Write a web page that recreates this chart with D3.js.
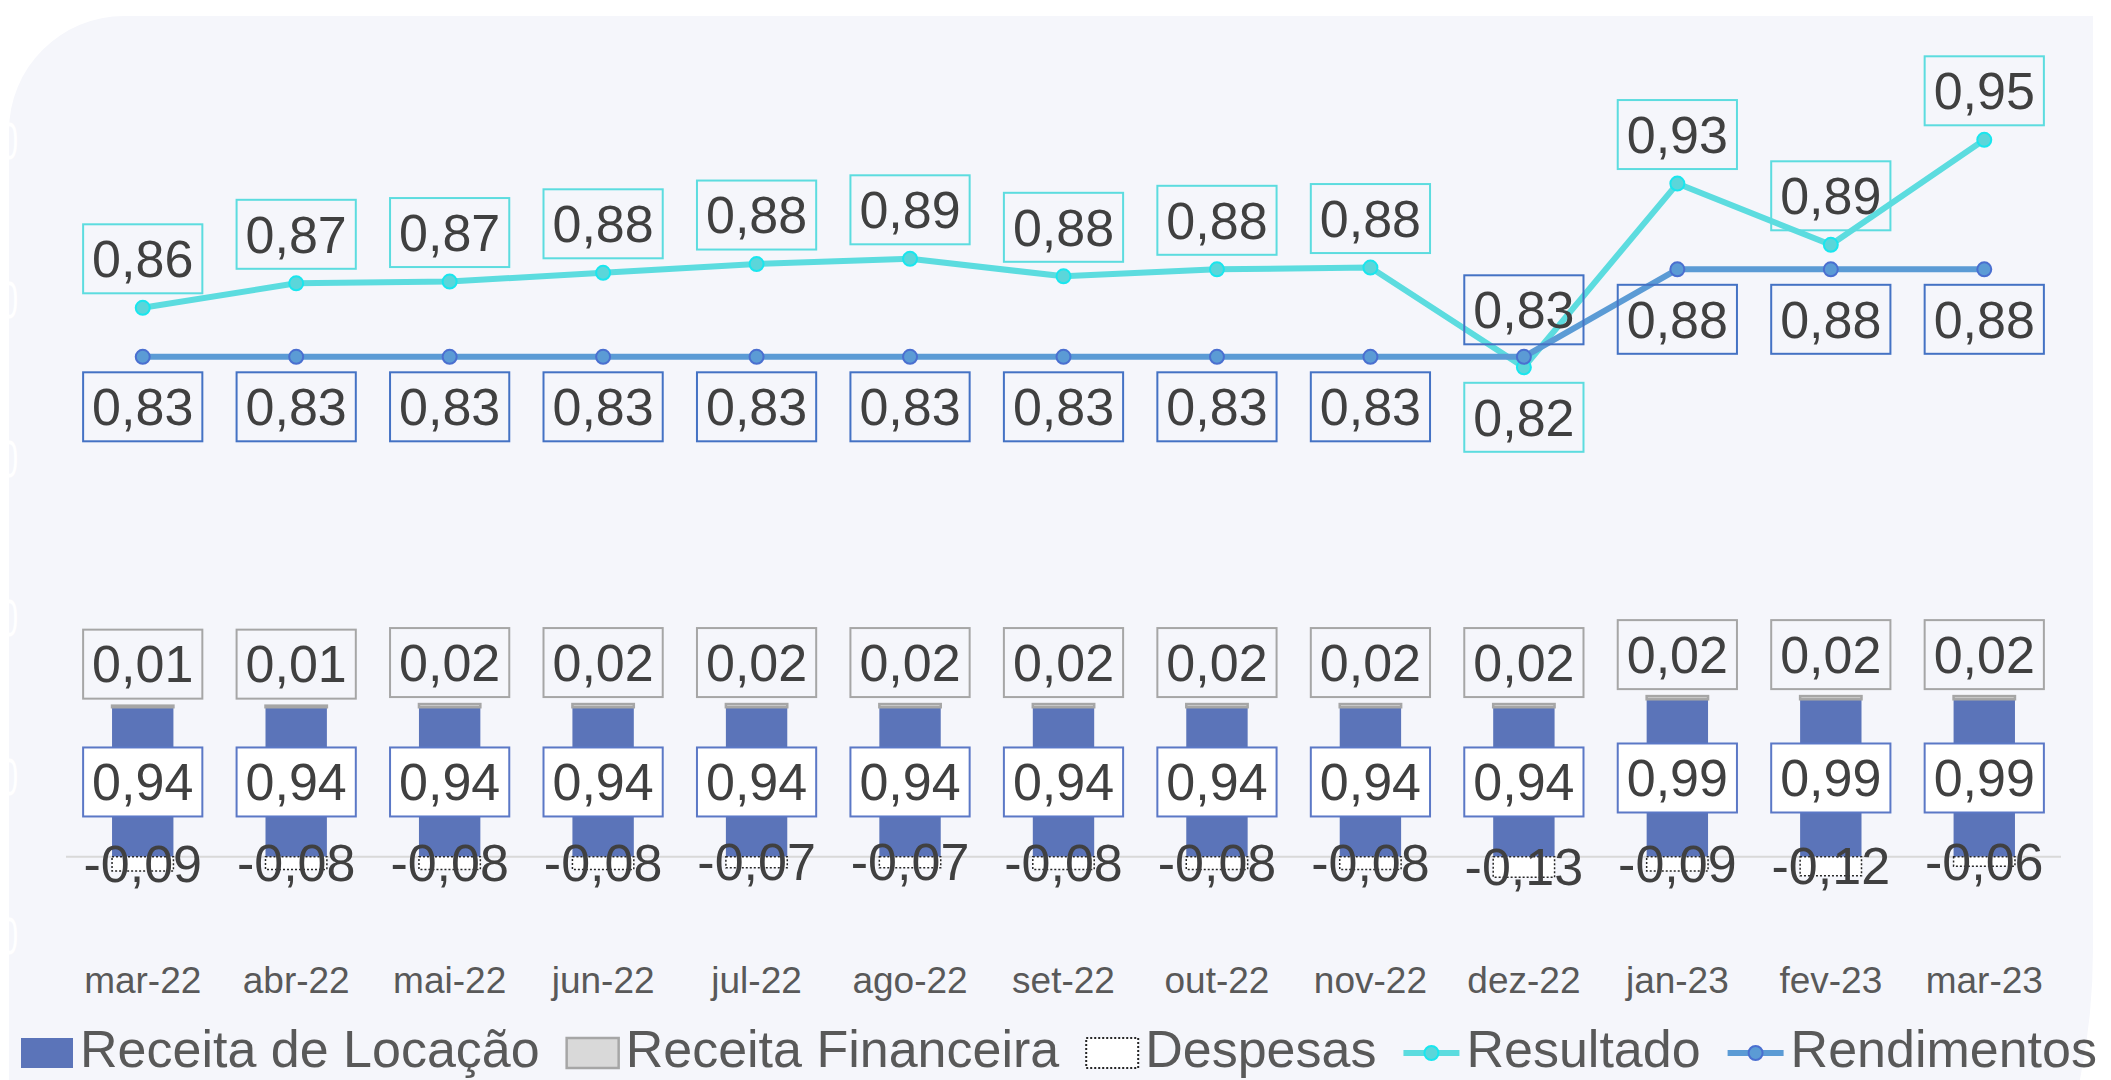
<!DOCTYPE html>
<html>
<head>
<meta charset="utf-8">
<script src="https://cdn.jsdelivr.net/npm/d3@7"></script>
<style>
  html, body { margin: 0; padding: 0; background: #ffffff; overflow: hidden; }
  svg { display: block; font-family: 'Liberation Sans', Arial, sans-serif; }
</style>
</head>
<body>
<div id="chart"></div>
<script>
const MONTHS = ['mar-22', 'abr-22', 'mai-22', 'jun-22', 'jul-22', 'ago-22', 'set-22',
  'out-22', 'nov-22', 'dez-22', 'jan-23', 'fev-23', 'mar-23'];

const RECEITA_LOCACAO = [0.94, 0.94, 0.94, 0.94, 0.94, 0.94, 0.94, 0.94, 0.94, 0.94, 0.99, 0.99, 0.99];
const RECEITA_FINANCEIRA = [0.01, 0.01, 0.02, 0.02, 0.02, 0.02, 0.02, 0.02, 0.02, 0.02, 0.02, 0.02, 0.02];
const DESPESAS = [-0.09, -0.08, -0.08, -0.08, -0.07, -0.07, -0.08, -0.08, -0.08, -0.13, -0.09, -0.12, -0.06];
const RESULTADO = [0.858, 0.872, 0.873, 0.878, 0.883, 0.886, 0.876, 0.880, 0.881, 0.824, 0.929, 0.894, 0.954];
const RENDIMENTOS = [0.83, 0.83, 0.83, 0.83, 0.83, 0.83, 0.83, 0.83, 0.83, 0.83, 0.88, 0.88, 0.88];

// left axis ticks; only the last glyph of each white label shows at the panel edge
const LEFT_TICKS = [-0.5, 0.5, 1.5, 2.5, 3.5, 4.5];

const LEGEND_ITEMS = [
  { label: 'Receita de Locação', kind: 'locacao' },
  { label: 'Receita Financeira', kind: 'financeira' },
  { label: 'Despesas', kind: 'despesas' },
  { label: 'Resultado', kind: 'resultado' },
  { label: 'Rendimentos', kind: 'rendimentos' }
];

const COLORS = {
  panel: '#f5f6fb',
  locacao: '#5b74b9',
  locacaoLabel: '#5b78c6',
  financeira: '#d9d9d9',
  financeiraStroke: '#a6a6a6',
  despesasStroke: '#262626',
  resultado: '#5cdcdf',
  resultadoMarker: '#5bd6da',
  resultadoMarkerStroke: '#19e6ee',
  rendimentos: '#5b9bd5',
  rendimentosMarkerStroke: '#4a6fd0',
  rendimentosLabel: '#4472c4',
  text: '#404040',
  axisText: '#595959',
  grid: '#d9d9d9'
};

const W = 2111, H = 1080;
const LABEL_FONT = 52;
const LEGEND_FONT = 52;
const BOX_H = 69;

const ptBR = d3.formatLocale({ decimal: ',', thousands: '.', grouping: [3], currency: ['R$', ''], minus: '-' });
const fmt = ptBR.format('.2f');

const svg = d3.select('#chart').append('svg')
  .attr('width', W)
  .attr('height', H)
  .attr('viewBox', `0 0 ${W} ${H}`);

// background panel: rounded top-left and a wide curve at bottom-right
svg.append('path')
  .attr('d', 'M124,16 H2093 V950 A650,650 0 0 1 1443,1600 H9 V131 A115,115 0 0 1 124,16 Z')
  .attr('fill', COLORS.panel);

const x = d3.scaleBand()
  .domain(MONTHS)
  .range([66, 2061])
  .paddingInner(0.6)
  .paddingOuter(0.3);
const bw = x.bandwidth();
const cx = m => x(m) + bw / 2;

const yBar = d3.scaleLinear().domain([-0.5, 4.5]).range([936.2, 141.2]);
const yLine = d3.scaleLinear().domain([0.8, 1.0]).range([409.3, 59.3]);

// white tick glyphs on the left edge
const leftAxis = svg.append('g')
  .call(d3.axisLeft(yBar).tickValues(LEFT_TICKS).tickFormat(d => fmt(d).slice(-1)).tickSize(0).tickPadding(0));
leftAxis.select('.domain').remove();
leftAxis.selectAll('.tick')
  .attr('transform', d => `translate(18,${yBar(d)}) scale(0.6,1)`);
leftAxis.selectAll('text')
  .attr('x', 0)
  .attr('dy', '0.35em')
  .attr('fill', '#ffffff')
  .style('font-size', LABEL_FONT + 'px')
  .style('font-family', "'Liberation Sans', Arial, sans-serif");

// zero line
svg.append('line')
  .attr('x1', x.range()[0]).attr('x2', x.range()[1])
  .attr('y1', yBar(0)).attr('y2', yBar(0))
  .attr('stroke', COLORS.grid)
  .attr('stroke-width', 2);

// stacked bars
const table = MONTHS.map((m, i) => ({
  month: m,
  locacao: RECEITA_LOCACAO[i],
  financeira: RECEITA_FINANCEIRA[i],
  despesas: DESPESAS[i]
}));

const stacked = d3.stack()
  .keys(['locacao', 'financeira', 'despesas'])
  .offset(d3.stackOffsetDiverging)(table);

const barStyle = {
  locacao: { fill: COLORS.locacao, stroke: 'none', dash: null, sw: 0 },
  financeira: { fill: COLORS.financeira, stroke: COLORS.financeiraStroke, dash: null, sw: 2.5 },
  despesas: { fill: '#ffffff', stroke: COLORS.despesasStroke, dash: '2 2', sw: 1.5 }
};

const barsG = svg.append('g').attr('class', 'bars');
stacked.forEach(series => {
  const st = barStyle[series.key];
  barsG.append('g')
    .selectAll('rect')
    .data(series)
    .enter()
    .append('rect')
    .attr('x', d => x(d.data.month))
    .attr('width', bw)
    .attr('y', d => yBar(Math.max(d[0], d[1])))
    .attr('height', d => Math.abs(yBar(d[0]) - yBar(d[1])))
    .attr('fill', st.fill)
    .attr('stroke', st.stroke)
    .attr('stroke-width', st.sw)
    .attr('stroke-dasharray', st.dash);
});

// lines
const lineGen = d3.line()
  .x((d, i) => cx(MONTHS[i]))
  .y(d => yLine(d));

const linesG = svg.append('g').attr('class', 'lines');

function drawSeries(values, color, markerFill, markerStroke) {
  linesG.append('path')
    .datum(values)
    .attr('d', lineGen)
    .attr('fill', 'none')
    .attr('stroke', color)
    .attr('stroke-width', 6)
    .attr('stroke-linejoin', 'round');
  linesG.append('g')
    .selectAll('circle')
    .data(values)
    .enter()
    .append('circle')
    .attr('cx', (d, i) => cx(MONTHS[i]))
    .attr('cy', d => yLine(d))
    .attr('r', 7)
    .attr('fill', markerFill)
    .attr('stroke', markerStroke)
    .attr('stroke-width', 2);
}

drawSeries(RESULTADO, COLORS.resultado, COLORS.resultadoMarker, COLORS.resultadoMarkerStroke);
drawSeries(RENDIMENTOS, COLORS.rendimentos, COLORS.rendimentos, COLORS.rendimentosMarkerStroke);

// data labels
const labelsG = svg.append('g').attr('class', 'labels');

function drawLabel(px, py, str, boxStroke, boxFill) {
  const g = labelsG.append('g').attr('transform', `translate(${px},${py})`);
  const t = g.append('text')
    .attr('text-anchor', 'middle')
    .attr('dy', '0.35em')
    .attr('fill', COLORS.text)
    .style('font-size', LABEL_FONT + 'px')
    .text(str);
  if (boxStroke) {
    const w = t.node().getComputedTextLength() + 18;
    g.insert('rect', 'text')
      .attr('x', -w / 2)
      .attr('y', -BOX_H / 2)
      .attr('width', w)
      .attr('height', BOX_H)
      .attr('fill', boxFill)
      .attr('stroke', boxStroke)
      .attr('stroke-width', 2);
  }
}

const [sLoc, sFin, sDesp] = stacked;

MONTHS.forEach((m, i) => {
  const px = cx(m);
  // Receita de Locacao, centred in its segment
  drawLabel(px, (yBar(sLoc[i][0]) + yBar(sLoc[i][1])) / 2, fmt(RECEITA_LOCACAO[i]), COLORS.locacaoLabel, '#ffffff');
  // Receita Financeira, just above the stack
  drawLabel(px, yBar(sFin[i][1]) - 7 - BOX_H / 2, fmt(RECEITA_FINANCEIRA[i]), COLORS.financeiraStroke, 'none');
  // Despesas, text only
  drawLabel(px, (yBar(sDesp[i][0]) + yBar(sDesp[i][1])) / 2, fmt(DESPESAS[i]), null, null);

  // line labels: higher series goes above, the other below
  const resAbove = RESULTADO[i] >= RENDIMENTOS[i];
  drawLabel(px, yLine(RESULTADO[i]) + (resAbove ? -49 : 50), fmt(RESULTADO[i]), COLORS.resultado, 'none');
  drawLabel(px, yLine(RENDIMENTOS[i]) + (resAbove ? 50 : -47), fmt(RENDIMENTOS[i]), COLORS.rendimentosLabel, 'none');
});

// category axis
const xAxis = svg.append('g')
  .attr('transform', 'translate(0,980)')
  .call(d3.axisBottom(x).tickSize(0).tickPadding(0));
xAxis.select('.domain').remove();
xAxis.selectAll('text')
  .attr('y', 0)
  .attr('dy', '0.35em')
  .attr('fill', COLORS.axisText)
  .style('font-size', '37px')
  .style('font-family', "'Liberation Sans', Arial, sans-serif");

// legend
const legend = svg.append('g').attr('class', 'legend');
const legendY = 1049;
let lx = 21;
LEGEND_ITEMS.forEach(item => {
  const g = legend.append('g');
  let sw;
  if (item.kind === 'resultado' || item.kind === 'rendimentos') {
    sw = 56;
    const color = item.kind === 'resultado' ? COLORS.resultado : COLORS.rendimentos;
    const mFill = item.kind === 'resultado' ? COLORS.resultadoMarker : COLORS.rendimentos;
    const mStroke = item.kind === 'resultado' ? COLORS.resultadoMarkerStroke : COLORS.rendimentosMarkerStroke;
    g.append('line')
      .attr('x1', lx).attr('x2', lx + sw)
      .attr('y1', legendY + 4).attr('y2', legendY + 4)
      .attr('stroke', color)
      .attr('stroke-width', 6);
    g.append('circle')
      .attr('cx', lx + sw / 2).attr('cy', legendY + 4)
      .attr('r', 7)
      .attr('fill', mFill)
      .attr('stroke', mStroke)
      .attr('stroke-width', 2);
  } else {
    sw = 52;
    const st = barStyle[item.kind];
    g.append('rect')
      .attr('x', lx).attr('y', legendY - 11)
      .attr('width', sw).attr('height', 30)
      .attr('fill', st.fill)
      .attr('stroke', item.kind === 'locacao' ? 'none' : st.stroke)
      .attr('stroke-width', item.kind === 'despesas' ? 2 : 2.5)
      .attr('stroke-dasharray', st.dash);
  }
  lx += sw + 7;
  const t = g.append('text')
    .attr('x', lx)
    .attr('y', legendY)
    .attr('dy', '0.35em')
    .attr('fill', COLORS.axisText)
    .style('font-size', LEGEND_FONT + 'px')
    .text(item.label);
  lx += t.node().getComputedTextLength() + 27;
});
</script>
</body>
</html>
